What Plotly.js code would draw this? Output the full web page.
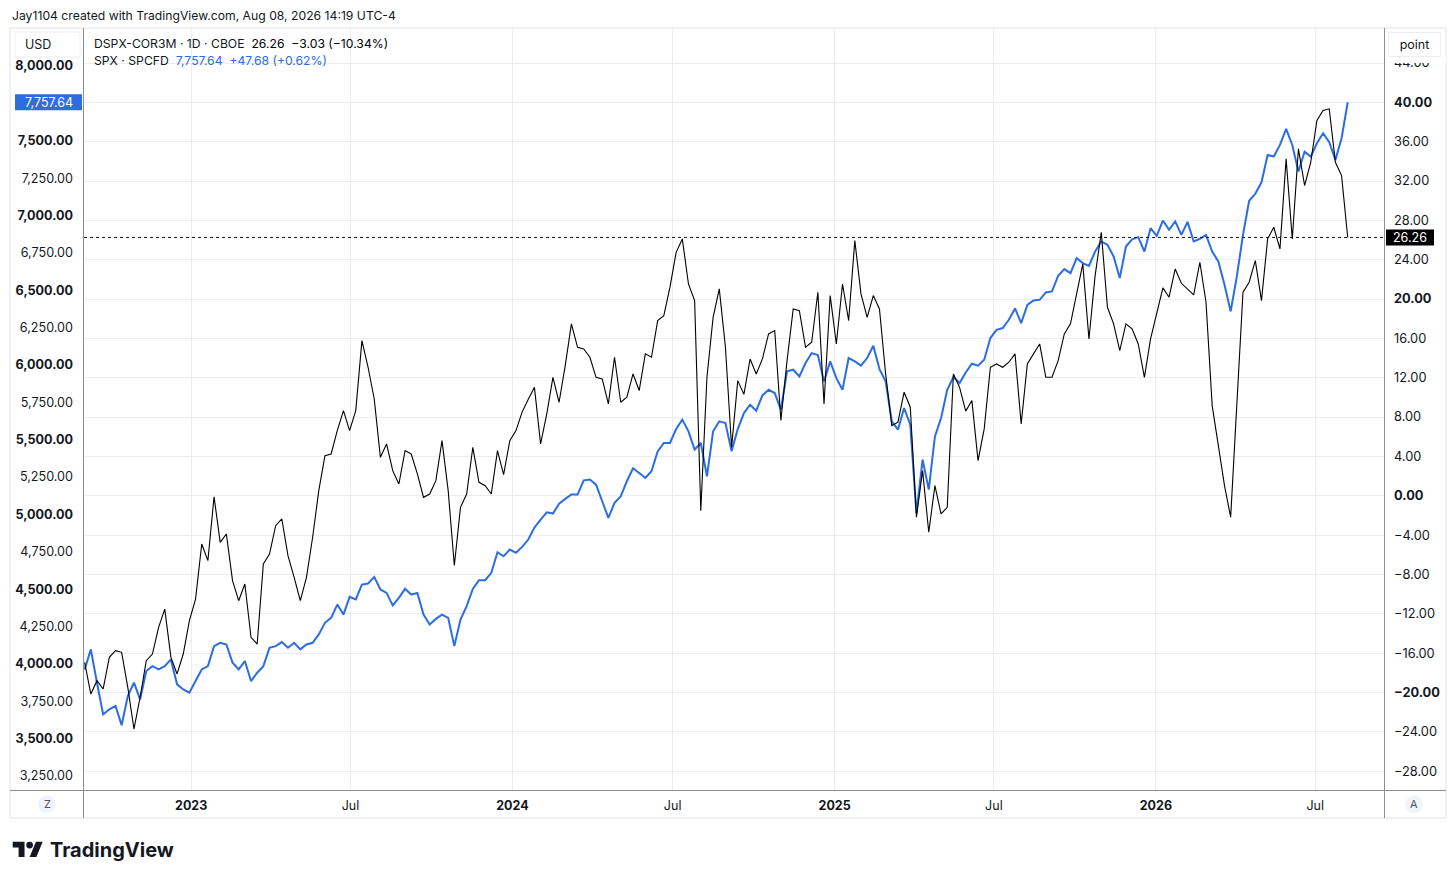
<!DOCTYPE html>
<html>
<head>
<meta charset="utf-8">
<script src="https://cdn.plot.ly/plotly-3.0.1.min.js"></script>
<style>
  html, body { margin: 0; padding: 0; background: #ffffff; }
  #chart { width: 1456px; height: 880px; }
</style>
</head>
<body>
<div id="chart"></div>
<script>
// ---------------- DATA (weekly samples) ----------------
const startDate = "2022-09-02";          // first weekly sample (Friday)
const spxValues = [
  3963, 4097, 3874, 3662, 3696, 3718, 3590, 3785, 3874, 3762,
  3952, 3985, 3963, 3985, 4030, 3863, 3829, 3807, 3885, 3963,
  3985, 4119, 4141, 4130, 4008, 3963, 4019, 3885, 3941, 3985,
  4108, 4119, 4146, 4108, 4141, 4097, 4130, 4141, 4197, 4275,
  4308, 4397, 4330, 4448, 4431, 4531, 4538, 4582, 4498, 4475,
  4391, 4442, 4502, 4464, 4475, 4330, 4264, 4301, 4330, 4308,
  4119, 4297, 4386, 4502, 4560, 4560, 4609, 4747, 4720, 4765,
  4743, 4783, 4832, 4912, 4965, 5014, 5006, 5072, 5104, 5133,
  5133, 5228, 5233, 5199, 5088, 4977, 5077, 5121, 5222, 5309,
  5277, 5244, 5289, 5422, 5478, 5478, 5571, 5634, 5556, 5433,
  5478, 5255, 5556, 5623, 5612, 5422, 5571, 5678, 5734, 5694,
  5796, 5834, 5812, 5701, 5957, 5968, 5923, 6013, 6079, 6066,
  5890, 6024, 5912, 5834, 6046, 6024, 5995, 6046, 6128, 5972,
  5890, 5623, 5567, 5712, 5600, 5010, 5366, 5166, 5522, 5645,
  5834, 5919, 5879, 5950, 6008, 5995, 6035, 6180, 6235, 6247,
  6302, 6378, 6280, 6402, 6431, 6436, 6485, 6492, 6596, 6641,
  6614, 6714, 6681, 6663, 6759, 6826, 6804, 6726, 6581, 6792,
  6841, 6855, 6759, 6915, 6864, 6966, 6904, 6960, 6870, 6957,
  6826, 6844, 6870, 6759, 6692, 6536, 6358, 6592, 6870, 7098,
  7145, 7222, 7405, 7394, 7472, 7579, 7472, 7294, 7427, 7394,
  7483, 7550, 7490, 7372, 7517, 7757.64
];
const dspxValues = [
  -16.95, -20.17, -18.81, -19.66, -16.44, -15.76, -15.93, -19.5, -23.73, -20.5,
  -16.78, -16.1, -13.39, -11.53, -16.44, -18.13, -16.1, -12.71, -10.51, -4.91,
  -6.61, -0.12, -4.75, -3.9, -8.64, -10.68, -8.98, -14.41, -15.09, -6.95,
  -5.93, -3.05, -2.37, -6.1, -8.3, -10.68, -8.3, -4.23, 0.51, 4.07,
  4.24, 6.62, 8.65, 6.62, 8.65, 15.77, 13.06, 9.83, 3.9, 5.26,
  2.55, 1.19, 4.58, 4.24, 2.21, -0.17, 0.17, 1.53, 5.6, 0.51,
  -7.1, -1.18, 0.17, 4.92, 1.36, 1.02, 0.17, 4.58, 2.14, 5.6,
  6.62, 8.5, 9.8, 11.02, 5.26, 8.31, 12.04, 9.5, 13.23, 17.47,
  15.09, 14.92, 14.08, 12.04, 11.87, 9.33, 14.08, 9.5, 10.01, 12.38,
  10.69, 14.42, 14.08, 17.81, 18.31, 21.2, 24.75, 26.11, 21.53, 19.84,
  -1.52, 12.04, 18.14, 21.03, 15.09, 4.92, 11.7, 10.3, 13.9, 12.38,
  13.91, 16.45, 16.79, 7.64, 13.74, 18.99, 18.82, 15.09, 15.6, 20.69,
  9.33, 20.35, 15.43, 21.53, 17.81, 25.94, 20.52, 18.14, 20.35, 18.99,
  12.38, 7.13, 7.47, 10.52, 9.0, -2.19, 2.55, -3.72, 1.02, -1.86,
  -1.18, 12.38, 11.02, 8.6, 9.67, 3.57, 6.79, 13.06, 13.4, 13.06,
  13.57, 14.42, 7.3, 13.4, 14.42, 15.43, 12.04, 12.04, 13.74, 16.45,
  17.47, 20.52, 23.57, 15.94, 22.38, 26.79, 19.16, 17.47, 14.75, 17.47,
  16.96, 15.43, 12.04, 15.94, 18.48, 21.13, 20.18, 23.06, 21.6, 21.03,
  20.42, 23.74, 19.67, 9.16, 5.09, 1.03, -2.19, 9.16, 20.69, 21.71,
  23.91, 19.84, 26.11, 27.3, 25.1, 34.25, 26.11, 35.27, 31.54, 33.91,
  38.15, 39.17, 39.34, 33.91, 32.55, 26.26
];

const xTickVals = ["2023-01-01","2023-07-01","2024-01-01","2024-07-01","2025-01-01","2025-07-01","2026-01-01","2026-07-01"];
const xTickText = ["<b>2023</b>","Jul","<b>2024</b>","Jul","<b>2025</b>","Jul","<b>2026</b>","Jul"];

const leftTickVals = [3250,3500,3750,4000,4250,4500,4750,5000,5250,5500,5750,6000,6250,6500,6750,7000,7250,7500,8000];
const leftTickText = ["3,250.00","<b>3,500.00</b>","3,750.00","<b>4,000.00</b>","4,250.00","<b>4,500.00</b>","4,750.00","<b>5,000.00</b>","5,250.00","<b>5,500.00</b>","5,750.00","<b>6,000.00</b>","6,250.00","<b>6,500.00</b>","6,750.00","<b>7,000.00</b>","7,250.00","<b>7,500.00</b>","<b>8,000.00</b>"];

const rightTickVals = [-28,-24,-20,-16,-12,-8,-4,0,4,8,12,16,20,24,28,32,36,40,44];
const rightTickText = ["−28.00","−24.00","<b>−20.00</b>","−16.00","−12.00","−8.00","−4.00","<b>0.00</b>","4.00","8.00","12.00","16.00","<b>20.00</b>","24.00","28.00","32.00","36.00","<b>40.00</b>","44.00"];

const spxLast = 7757.64, spxLastText = "7,757.64";
const dspxLast = 26.26, dspxLastText = "26.26";

// ---------------- build dates ----------------
const dates = [];
{
  const t0 = Date.parse(startDate + "T00:00:00Z");
  for (let i = 0; i < spxValues.length; i++) {
    dates.push(new Date(t0 + i * 7 * 86400000).toISOString().slice(0, 10));
  }
}

// ---------------- geometry helpers (pixel -> paper) ----------------
const PL = 84, PR = 1384, PT = 28, PB = 790;
const px = x => (x - PL) / (PR - PL);
const py = y => (PB - y) / (PB - PT);

const BLUE = "#2a6de4";
const INK = "#131722";
const FRAME = "#e0e3eb";
const AXIS = "#8c8f99";
const GRID = "#ececec";
const FONT = "Inter, Roboto, 'Noto Sans', sans-serif";

const shapes = [];
const annotations = [];

function lineShape(x0, y0, x1, y1, color, width, dash) {
  shapes.push({type: "line", xref: "paper", yref: "paper", x0: px(x0), x1: px(x1), y0: py(y0), y1: py(y1),
    line: {color: color, width: width, dash: dash || "solid"}, layer: "above"});
}
function rectShape(x0, y0, x1, y1, fill, lineColor, layer) {
  shapes.push({type: "rect", xref: "paper", yref: "paper", x0: px(x0), x1: px(x1), y0: py(y0), y1: py(y1),
    fillcolor: fill, line: {color: lineColor || "rgba(0,0,0,0)", width: lineColor ? 1 : 0}, layer: layer || "above"});
}
function pathShape(points, fill) {
  const d = points.map((p, i) => (i ? "L" : "M") + px(p[0]) + "," + py(p[1])).join(" ") + " Z";
  shapes.push({type: "path", xref: "paper", yref: "paper", path: d, fillcolor: fill, line: {width: 0}, layer: "above"});
}
function circleShape(cx, cy, r, fill) {
  shapes.push({type: "circle", xref: "paper", yref: "paper", x0: px(cx - r), x1: px(cx + r), y0: py(cy + r), y1: py(cy - r),
    fillcolor: fill, line: {width: 0}, layer: "above"});
}
function ann(x, y, text, opt) {
  annotations.push(Object.assign({xref: "paper", yref: "paper", x: px(x), y: py(y), text: text, showarrow: false,
    xanchor: "left", yanchor: "middle", font: {family: FONT, size: 13, color: INK}}, opt || {}));
}

// outer frame and scale separators
rectShape(10, 28, 1446, 818, "rgba(0,0,0,0)", FRAME, "below");
lineShape(83.5, 28, 83.5, 818, AXIS, 1);
lineShape(1384.5, 28, 1384.5, 818, AXIS, 1);
lineShape(10, 790.5, 1446, 790.5, AXIS, 1);

// last-value dotted price line for DSPX-COR3M (on its own scale)
shapes.push({type: "line", xref: "paper", yref: "y2", x0: 0, x1: 1, y0: dspxLast, y1: dspxLast,
  line: {color: INK, width: 1, dash: "dot"}, layer: "above"});

// last-value tags
shapes.push({type: "rect", xref: "paper", yref: "y", x0: px(15), x1: px(82), ysizemode: "pixel", yanchor: spxLast,
  y0: -8, y1: 8, fillcolor: BLUE, line: {width: 0}, layer: "above"});
annotations.push({xref: "paper", yref: "y", x: px(48.5), y: spxLast, text: spxLastText, showarrow: false,
  xanchor: "center", yanchor: "middle", font: {family: FONT, size: 12.5, color: "#ffffff"}});
shapes.push({type: "rect", xref: "paper", yref: "y2", x0: px(1386), x1: px(1434), ysizemode: "pixel", yanchor: dspxLast,
  y0: -8, y1: 8, fillcolor: "#000000", line: {width: 0}, layer: "above"});
annotations.push({xref: "paper", yref: "y2", x: px(1410), y: dspxLast, text: dspxLastText, showarrow: false,
  xanchor: "center", yanchor: "middle", font: {family: FONT, size: 12.5, color: "#ffffff"}});

// header
ann(10, 15, "Jay1104 created with TradingView.com, Aug 08, 2026 14:19 UTC-4", {font: {family: FONT, size: 12.2, color: INK}});

// scale unit boxes
rectShape(15, 32, 80, 57, "#ffffff", "#eeeeee", "above");
ann(23, 44.5, "USD", {font: {family: FONT, size: 12.5, color: INK}});
ann(1386, 56, "", {yanchor: "top", width: 60, height: 7, bgcolor: "#ffffff", borderpad: 0, borderwidth: 0});
ann(1388, 32, "point", {yanchor: "top", width: 51, height: 23, bgcolor: "#ffffff", bordercolor: "#eeeeee", borderwidth: 1,
  align: "center", font: {family: FONT, size: 12.5, color: INK}, borderpad: 0});

// legend lines
ann(92, 43.5, "DSPX-COR3M · 1D · CBOE&nbsp;&nbsp;<span style='color:#000000'>26.26&nbsp;&nbsp;−3.03 (−10.34%)</span>",
  {font: {family: FONT, size: 12.2, color: INK}});
ann(92, 60.5, "SPX · SPCFD&nbsp;&nbsp;<span style='color:" + BLUE + "'>7,757.64&nbsp;&nbsp;+47.68 (+0.62%)</span>",
  {font: {family: FONT, size: 12.2, color: INK}});

// Z / A buttons
circleShape(47, 804.5, 9, "#f0f3fa");
ann(47, 804.5, "Z", {xanchor: "center", font: {family: FONT, size: 11, color: "#50535e"}});
circleShape(1414, 804.5, 9, "#f0f3fa");
ann(1414, 804.5, "A", {xanchor: "center", font: {family: FONT, size: 11, color: "#50535e"}});

// TradingView logo
{
  const lx = 12.7, ly = 841.7, s = 0.845;
  const P = (vx, vy) => [lx + s * vx, ly + s * (vy - 4)];
  pathShape([P(14, 22), P(7, 22), P(7, 11), P(0, 11), P(0, 4), P(14, 4)], INK);
  pathShape([P(28, 22), P(20, 22), P(27.5, 4), P(35.5, 4)], INK);
  const c = P(20, 8);
  circleShape(c[0], c[1], 4 * s, INK);
  ann(47.5, 849.5, "<b>TradingView</b>", {font: {family: FONT, size: 20, color: INK}});
}

// ---------------- traces ----------------
const traces = [
  {type: "scatter", mode: "lines", x: dates, y: spxValues, yaxis: "y", name: "SPX",
    line: {color: BLUE, width: 2}, hoverinfo: "skip"},
  {type: "scatter", mode: "lines", x: dates, y: dspxValues, yaxis: "y2", name: "DSPX-COR3M",
    line: {color: "#000000", width: 1.1}, hoverinfo: "skip"}
];

const layout = {
  width: 1456, height: 880,
  margin: {l: 84, r: 72, t: 28, b: 90, pad: 0},
  paper_bgcolor: "#ffffff", plot_bgcolor: "#ffffff",
  showlegend: false, hovermode: false,
  font: {family: FONT, size: 13, color: INK},
  xaxis: {
    type: "date", range: ["2022-09-01 06:00", "2026-09-17 05:00"],
    tickmode: "array", tickvals: xTickVals, ticktext: xTickText,
    showgrid: true, gridcolor: GRID, gridwidth: 1, zeroline: false, showline: false,
    ticks: "", ticklabelstandoff: 6, tickfont: {family: FONT, size: 12.5, color: INK}, fixedrange: true
  },
  yaxis: {
    range: [3156.3, 8254.2], side: "left",
    tickmode: "array", tickvals: leftTickVals, ticktext: leftTickText,
    showgrid: false, zeroline: false, showline: false, ticks: "", ticklabelstandoff: 10,
    tickfont: {family: FONT, size: 12.6, color: INK}, fixedrange: true
  },
  yaxis2: {
    range: [-29.93, 47.56], side: "right", overlaying: "y",
    tickmode: "array", tickvals: rightTickVals, ticktext: rightTickText,
    showgrid: true, gridcolor: GRID, gridwidth: 1, zeroline: false, showline: false, ticks: "", ticklabelstandoff: 9,
    tickfont: {family: FONT, size: 12.8, color: INK}, fixedrange: true
  },
  shapes: shapes,
  annotations: annotations
};

Plotly.newPlot("chart", traces, layout, {staticPlot: true, displayModeBar: false});
</script>
</body>
</html>
